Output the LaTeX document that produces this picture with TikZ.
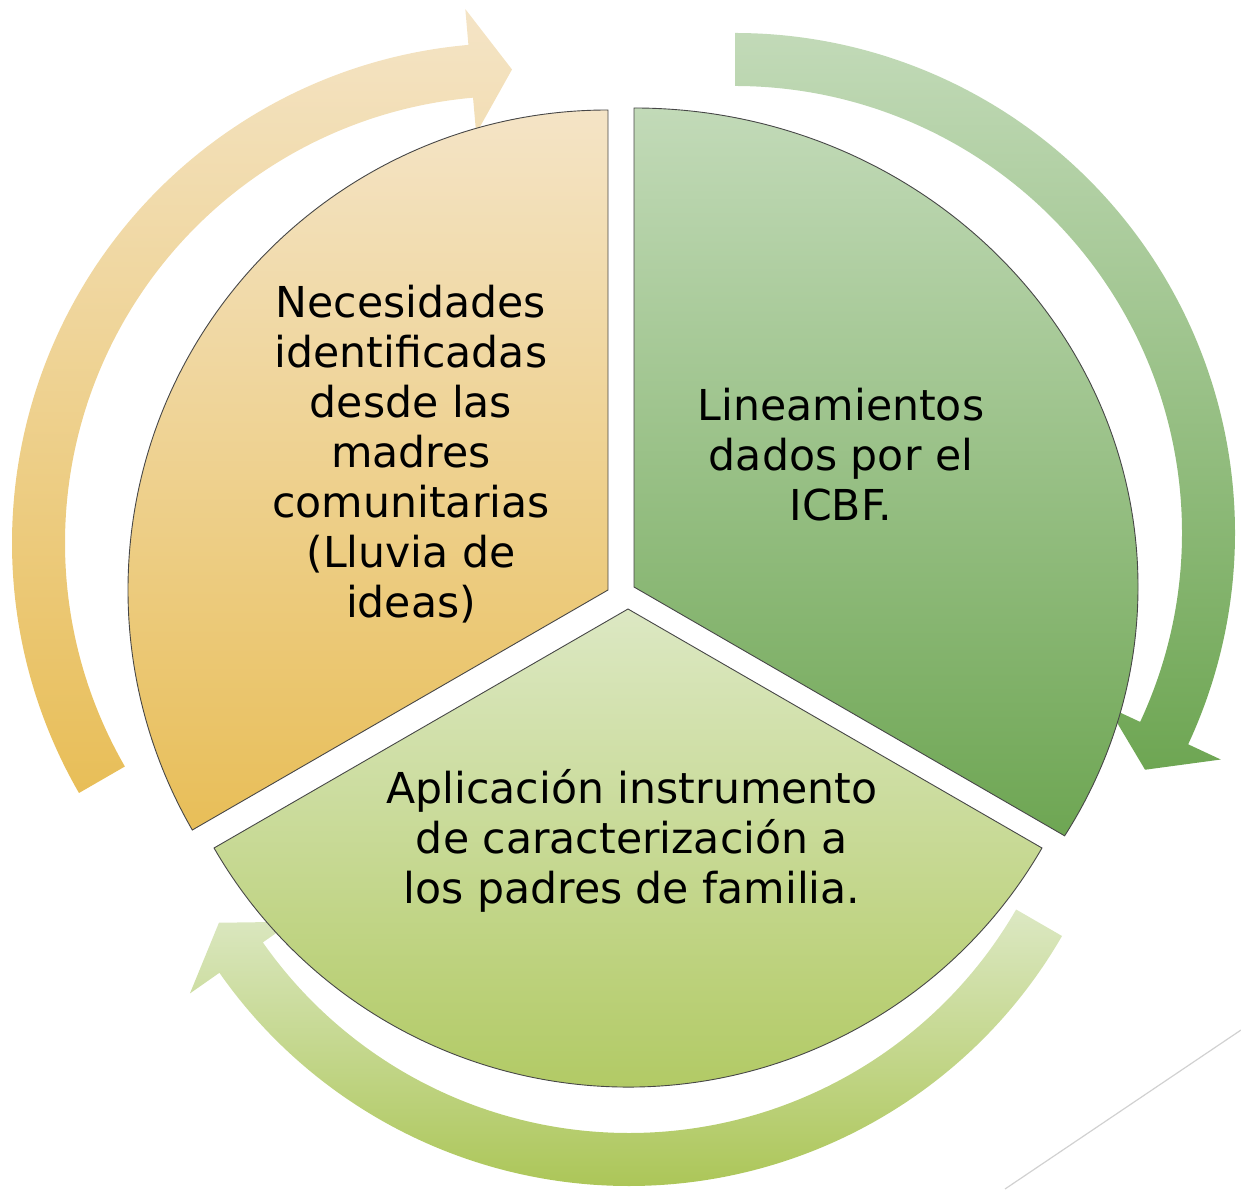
\documentclass[tikz,border=0pt]{standalone}
\usepackage{fontspec}
\newfontfamily\dvs{DejaVu Sans}
\definecolor{orTop}{HTML}{F4E4C6}
\definecolor{orBot}{HTML}{E8BE58}
\definecolor{grTop}{HTML}{C2DAB8}
\definecolor{grBot}{HTML}{6EA653}
\definecolor{liTop}{HTML}{DCE8C3}
\definecolor{liBot}{HTML}{ACC658}
\tikzset{
  sector/.style={draw=black!72, line width=0.9pt},
  cyclearrow/.style={draw=none},
  segtext/.style={align=center, text=black, inner sep=0pt, font={\dvs\fontsize{42.6}{50}\selectfont}}
}
\begin{document}
\begin{tikzpicture}[x=1pt,y=1pt]
\useasboundingbox (0,0) rectangle (1241,1189);
% faint line bottom right
\draw[black!18, line width=1.2pt] (1241,159) -- (1005,0);
% arrows
\begin{scope}[shift={(512,646)}]
  \path[cyclearrow, top color=orTop, bottom color=orBot]
    (210:500pt) arc[start angle=210,end angle=95,radius=500pt]
    -- (95:536pt) -- (90:473.5pt) -- (95:411pt) -- (95:447pt)
    arc[start angle=95,end angle=210,radius=447pt] -- cycle;
\end{scope}
\begin{scope}[shift={(735,656)}]
  \path[cyclearrow, top color=grTop, bottom color=grBot]
    (90:500pt) arc[start angle=90,end angle=-25,radius=500pt]
    -- (-25:536pt) -- (-30:473.5pt) -- (-25:411pt) -- (-25:447pt)
    arc[start angle=-25,end angle=90,radius=447pt] -- cycle;
\end{scope}
\begin{scope}[shift={(629,503)}]
  \path[cyclearrow, top color=liTop, bottom color=liBot]
    (-30:500pt) arc[start angle=-30,end angle=-145,radius=500pt]
    -- (-145:536pt) -- (-150:473.5pt) -- (-145:411pt) -- (-145:447pt)
    arc[start angle=-145,end angle=-30,radius=447pt] -- cycle;
\end{scope}
% sectors
\draw[sector, top color=orTop, bottom color=orBot]
  (608,599) -- ++(90:480pt) arc[start angle=90,end angle=210,radius=480pt] -- cycle;
\draw[sector, top color=grTop, bottom color=grBot]
  (634,602) -- ++(0,479) arc[start angle=90,end angle=-31.3,x radius=504pt,y radius=479pt] -- cycle;
\draw[sector, top color=liTop, bottom color=liBot]
  (628,580) -- ++(210:478pt) arc[start angle=210,end angle=330,radius=478pt] -- cycle;
% texts
\node[segtext] (necesidades) at (411,735) {Necesidades\\identificadas\\desde las\\madres\\comunitarias\\(Lluvia de\\ideas)};
\node[segtext] (lineamientos) at (841,734) {Lineamientos\\dados por el\\ICBF.};
\node[segtext] (aplicacion) at (632,348) {Aplicación instrumento\\de caracterización a\\los padres de familia.};
\end{tikzpicture}
\end{document}
